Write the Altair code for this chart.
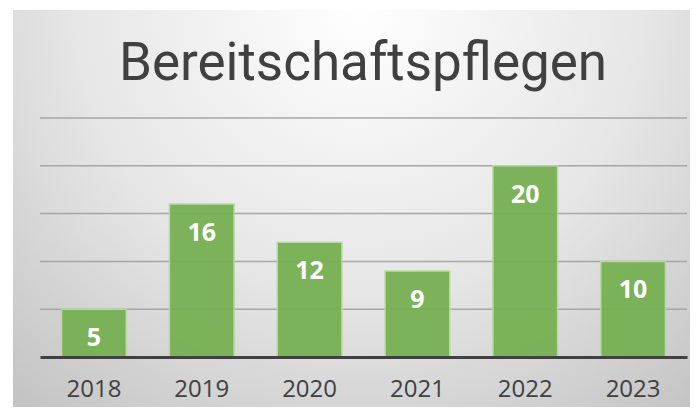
import altair as alt
import pandas as pd

years = ["2018", "2019", "2020", "2021", "2022", "2023"]
values = [5, 16, 12, 9, 20, 10]
grid_values = [5, 10, 15, 20, 25]
title_text = "Bereitschaftspflegen"

df = pd.DataFrame({"year": years, "value": values})
gdf = pd.DataFrame({"g": grid_values})

W, H = 647, 239

bg_grad = alt.RadialGradient(
    gradient="radial",
    x1=0.5, y1=0.2, r1=0.0,
    x2=0.5, y2=0.2, r2=0.75,
    stops=[
        alt.GradientStop(offset=0, color="#FFFFFF"),
        alt.GradientStop(offset=0.55, color="#E6E6E6"),
        alt.GradientStop(offset=1, color="#C4C4C4"),
    ],
)

yscale = alt.Scale(domain=[0, 25], nice=False)

bg = alt.Chart(pd.DataFrame({"a": [0]})).mark_rect(color=bg_grad).encode(
    x=alt.value(-27), x2=alt.value(W + 20),
    y=alt.value(-108), y2=alt.value(H + 60),
)

grid = alt.Chart(gdf).mark_rule(color="#A6A6A6", strokeWidth=1.5).encode(
    y=alt.Y("g:Q", scale=yscale, axis=None),
    x=alt.value(0), x2=alt.value(W),
)

title = alt.Chart(pd.DataFrame({"t": [title_text]})).mark_text(
    font="Roboto", fontSize=53, color="#404040", baseline="alphabetic", align="center"
).encode(
    text="t:N", x=alt.value(323), y=alt.value(-38)
)

xenc = alt.X("year:N", sort=years, title=None,
             scale=alt.Scale(paddingInner=0.4, paddingOuter=0.2),
             axis=alt.Axis(labelAngle=0, labelFontSize=24, labelColor="#404040",
                           labelFont="Open Sans", labelPadding=20, ticks=False,
                           domainColor="#404040", domainWidth=3, grid=False, zindex=1))
yenc = alt.Y("value:Q", title=None, scale=yscale, axis=None)

bars = alt.Chart(df).mark_bar(color="#77B153", stroke="#B9D9A5", strokeWidth=1.5, opacity=0.95).encode(
    x=xenc, y=yenc
)

labels = alt.Chart(df).mark_text(
    font="Open Sans", fontSize=25, fontWeight="bold", color="white", baseline="middle", dy=29
).encode(
    x=alt.X("year:N", sort=years), y=alt.Y("value:Q"), text="value:Q"
)

chart = alt.layer(bg, grid, title, bars, labels).properties(
    width=W, height=H,
    autosize=alt.AutoSizeParams(type="none"),
    padding={"left": 32, "top": 110, "right": 3, "bottom": 50},
    background="white",
).configure_view(stroke=None)

chart.save("out.html", embed_options={"renderer": "svg", "actions": False})
